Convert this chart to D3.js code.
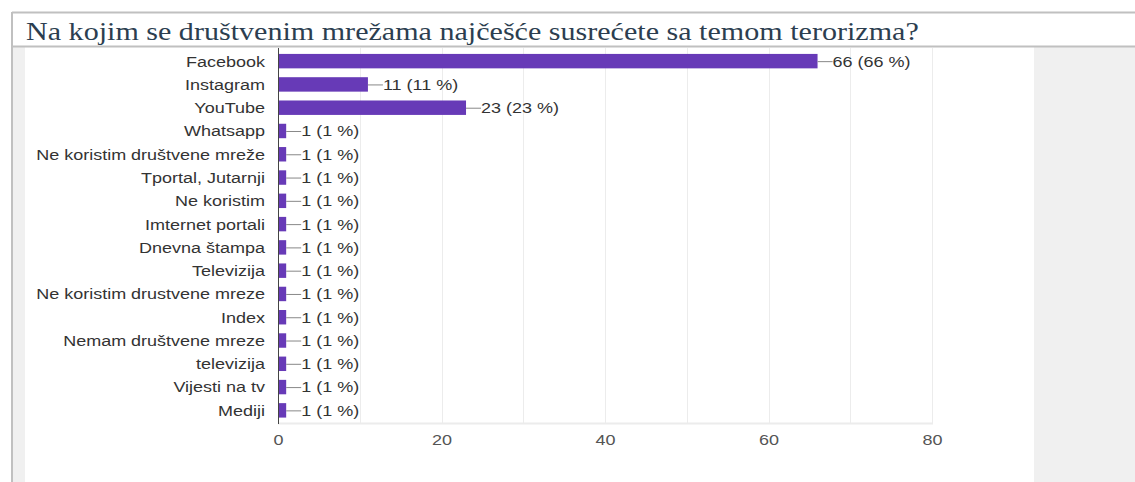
<!DOCTYPE html>
<html><head><meta charset="utf-8">
<script src="https://cdn.jsdelivr.net/npm/d3@7"></script>
<style>body{margin:0;background:#fff;}svg{display:block;}
.s{font-family:"Liberation Sans",Arial,sans-serif;}
</style>
</head><body>
<script>
const title = "Na kojim se društvenim mrežama najčešće susrećete sa temom terorizma?";
const categories = ["Facebook","Instagram","YouTube","Whatsapp","Ne koristim društvene mreže","Tportal, Jutarnji","Ne koristim","Imternet portali","Dnevna štampa","Televizija","Ne koristim drustvene mreze","Index","Nemam društvene mreze","televizija","Vijesti na tv","Mediji"];
const counts = [66,11,23,1,1,1,1,1,1,1,1,1,1,1,1,1];
const percents = [66,11,23,1,1,1,1,1,1,1,1,1,1,1,1,1];
const xTicks = [0,20,40,60,80];
const gridVals = [10,20,30,40,50,60,70,80];

const W = 1135, H = 482;
const SX = 1.2; // horizontal stretch of the reference text

// pick an installed serif face for the title
function pickSerif(){
  const c = document.createElement("canvas").getContext("2d");
  const s = "Na kojim se društvenim mrežama WWiill";
  const cands = ["Liberation Serif","Tinos","Times New Roman","DejaVu Serif","Noto Serif"];
  for (const f of cands){
    let differs = false;
    for (const fb of ["monospace","sans-serif"]){
      c.font = `30px ${fb}`; const a = c.measureText(s).width;
      c.font = `30px "${f}", ${fb}`; const b = c.measureText(s).width;
      if (Math.abs(a-b) > 0.5) differs = true; else { differs = false; break; }
    }
    if (differs) return `"${f}"`;
  }
  return "serif";
}
const serifFam = pickSerif();

const svg = d3.select("body").append("svg").attr("width", W).attr("height", H);

// frame
svg.append("rect").attr("x",1034).attr("y",47).attr("width",W-1034).attr("height",H-47).attr("fill","#f0f0f0");
svg.append("rect").attr("x",13).attr("y",47).attr("width",12).attr("height",H-47).attr("fill","#f0f0f0");
svg.append("line").attr("x1",12).attr("x2",W).attr("y1",12.5).attr("y2",12.5).attr("stroke","#c0c0c0").attr("stroke-width",2);
svg.append("line").attr("x1",12).attr("x2",W).attr("y1",46.5).attr("y2",46.5).attr("stroke","#c0c0c0").attr("stroke-width",2);
svg.append("line").attr("x1",12).attr("x2",12).attr("y1",12).attr("y2",H).attr("stroke","#c0c0c0").attr("stroke-width",2);

const tt = svg.append("text").attr("x",0).attr("y",0).text(title)
  .style("font-family", serifFam).style("font-size","26px").attr("fill","#2c3e50");
const tl = tt.node().getComputedTextLength();
tt.attr("transform",`translate(26,40) scale(${893/tl},1)`);

const x = d3.scaleLinear().domain([0,80]).range([278,932]);
const y = d3.scaleBand().domain(categories).range([49.5,422]).paddingInner(0.38).paddingOuter(0.19);

const g = svg.append("g");
// grid
g.selectAll("line.grid").data(gridVals).join("line")
  .attr("x1",d=>Math.round(x(d))+0.5).attr("x2",d=>Math.round(x(d))+0.5)
  .attr("y1",48).attr("y2",423).attr("stroke","#ececec").attr("stroke-width",1);
g.append("line").attr("x1",278).attr("x2",933).attr("y1",423.5).attr("y2",423.5).attr("stroke","#ececec").attr("stroke-width",2);

// bars
g.selectAll("rect.bar").data(categories).join("rect")
  .attr("x",x(0)).attr("y",d=>y(d))
  .attr("width",(d,i)=>x(counts[i])-x(0)).attr("height",y.bandwidth())
  .attr("fill","#673ab7");

// axis line
g.append("line").attr("x1",278.5).attr("x2",278.5).attr("y1",48).attr("y2",424).attr("stroke","#444").attr("stroke-width",1);

// leader lines and value labels
g.selectAll("line.lead").data(categories).join("line")
  .attr("x1",(d,i)=>x(counts[i])).attr("x2",(d,i)=>x(counts[i])+15)
  .attr("y1",d=>y(d)+y.bandwidth()/2+0.5).attr("y2",d=>y(d)+y.bandwidth()/2+0.5)
  .attr("stroke","#888").attr("stroke-width",1);
g.selectAll("text.val").data(categories).join("text").attr("class","s")
  .attr("transform",(d,i)=>`translate(${x(counts[i])+15},${y(d)+y.bandwidth()/2}) scale(${SX},1)`)
  .attr("dy","0.36em").text((d,i)=>counts[i]+" ("+percents[i]+" %)")
  .style("font-size","15px").attr("fill","#333");

// category labels
g.selectAll("text.cat").data(categories).join("text").attr("class","s")
  .attr("transform",d=>`translate(265,${y(d)+y.bandwidth()/2}) scale(${SX},1)`)
  .attr("dy","0.36em").attr("text-anchor","end").text(d=>d)
  .style("font-size","15px").attr("fill","#333");

// x tick labels
const xa = svg.append("g").attr("transform","translate(0,424)")
  .call(d3.axisBottom(x).tickValues(xTicks).tickSize(0).tickPadding(10).tickFormat(d3.format("d")));
xa.select(".domain").remove();
xa.selectAll("text").attr("class","s").style("font-size","15px").attr("fill","#555")
  .attr("transform",`scale(${SX},1)`);
</script>
</body></html>
